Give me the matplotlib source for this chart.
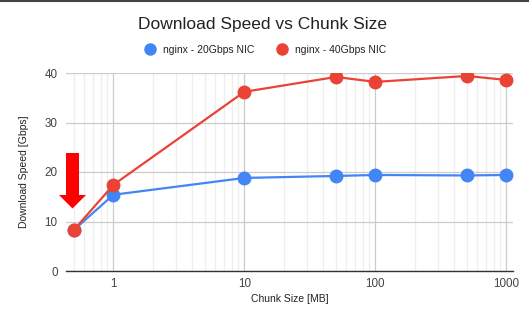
import matplotlib
matplotlib.use("Agg")
import matplotlib.pyplot as plt
from matplotlib.lines import Line2D
from matplotlib.patches import Polygon
from matplotlib.ticker import LogLocator, NullFormatter, FixedLocator, FixedFormatter

plt.rcParams['font.family'] = ['Liberation Sans', 'DejaVu Sans']

chunk_mb = [0.5, 1, 10, 50, 100, 500, 1000]
speed_20g = [8.3, 15.4, 18.8, 19.2, 19.4, 19.3, 19.4]
speed_40g = [8.3, 17.4, 36.2, 39.2, 38.2, 39.4, 38.6]
series_names = ["nginx - 20Gbps NIC", "nginx - 40Gbps NIC"]
x_ticks = [1, 10, 100, 1000]
x_tick_labels = ["1", "10", "100", "1000"]
y_ticks = [0, 10, 20, 30, 40]

blue = "#4285F4"
red = "#EA4335"
W, H = 529, 328

fig = plt.figure(figsize=(W / 100, H / 100), dpi=100)
ax = fig.add_axes([66 / W, 1 - 271 / H, (513 - 66) / W, (271 - 73) / H])

ax.plot(chunk_mb, speed_20g, color=blue, lw=1.6, marker="o", ms=9, zorder=3)
ax.plot(chunk_mb, speed_40g, color=red, lw=1.6, marker="o", ms=9, zorder=4)

ax.set_xscale("log")
ax.set_xlim(0.435, 1125)
ax.set_ylim(0, 40)
ax.xaxis.set_major_locator(FixedLocator(x_ticks))
ax.xaxis.set_major_formatter(FixedFormatter(x_tick_labels))
ax.xaxis.set_minor_locator(LogLocator(base=10, subs=range(2, 10), numticks=20))
ax.xaxis.set_minor_formatter(NullFormatter())
ax.set_yticks(y_ticks)

ax.grid(True, which="major", axis="both", color="#cccccc", lw=0.9, zorder=0)
ax.grid(True, which="minor", axis="x", color="#eeeeee", lw=0.9, zorder=0)
ax.set_axisbelow(True)
for side in ["left", "right", "top"]:
    ax.spines[side].set_visible(False)
ax.spines["bottom"].set_color("#333333")
ax.spines["bottom"].set_linewidth(1.0)
ax.tick_params(which="both", length=0, labelsize=8.4, labelcolor="#444444")
ax.tick_params(axis="x", pad=5)
ax.tick_params(axis="y", pad=6)

ax.set_xlabel("Chunk Size [MB]", fontsize=7.5, color="#222222", labelpad=3)
ax.set_ylabel("Download Speed [Gbps]", fontsize=7.5, color="#222222", labelpad=11)

fig.text(0.497, 1 - 25 / H, "Download Speed vs Chunk Size", ha="center", va="center",
         fontsize=12.5, color="#222222")

handles = [Line2D([], [], ls="none", marker="o", ms=8, color=c) for c in (blue, red)]
fig.legend(handles, series_names, loc="center", bbox_to_anchor=(0.497, 1 - 50 / H),
           ncol=2, frameon=False, fontsize=7.5, handletextpad=0.3, columnspacing=1.6,
           labelcolor="#222222")

# red arrow pointing down at the smallest chunk size
arrow_px = [(66, 153), (79, 153), (79, 195), (86, 195), (72.5, 208.5),
            (59, 195), (66, 195)]
fig.patches.append(Polygon([(x / W, 1 - y / H) for x, y in arrow_px], closed=True,
                           transform=fig.transFigure, color="#ff0000", lw=0, zorder=5))

# thin border along the top edge
fig.add_artist(Line2D([0, 1], [1 - 0.5 / H, 1 - 0.5 / H], transform=fig.transFigure,
                      color="#444444", lw=1.5))

fig.savefig("out.png", dpi=100)
